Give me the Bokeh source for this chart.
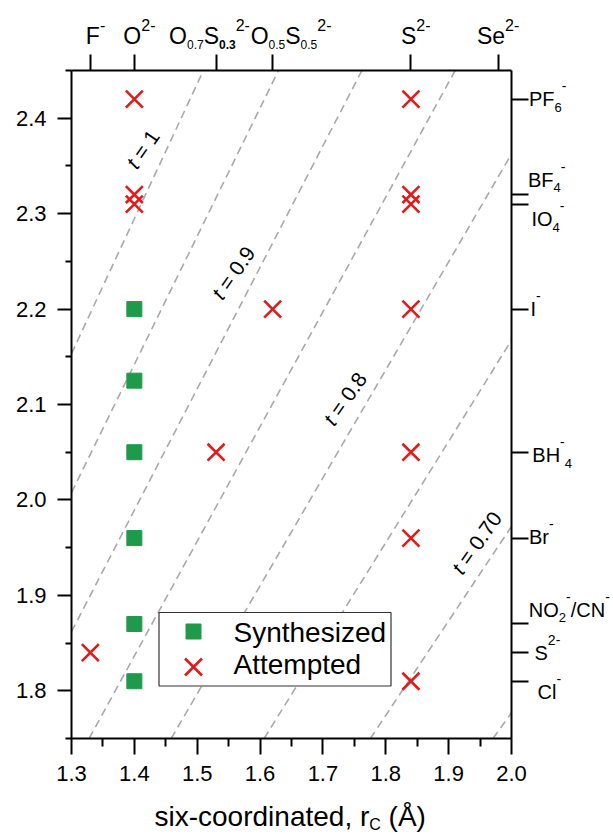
import math

from bokeh.embed import file_html
from bokeh.models import (FixedTicker, Label, LinearAxis, NumeralTickFormatter,
                          Range1d)
from bokeh.plotting import figure
from bokeh.resources import INLINE

# ---- data: six-coordinated Shannon radii (Å) ----
synth_rc = [1.40, 1.40, 1.40, 1.40, 1.40, 1.40]
synth_ra = [2.20, 2.125, 2.05, 1.96, 1.87, 1.81]

att_rc = [1.40, 1.40, 1.40, 1.33, 1.53, 1.62,
          1.84, 1.84, 1.84, 1.84, 1.84, 1.84, 1.84]
att_ra = [2.42, 2.32, 2.31, 1.84, 2.05, 2.20,
          2.42, 2.32, 2.31, 2.20, 2.05, 1.96, 1.81]

# tolerance factor iso-lines, t = (rA + rLi) / (sqrt(2) (rC + rLi))
r_li = 0.76
t_lines = [1.0, 0.95, 0.9, 0.85, 0.8, 0.75, 0.7, 0.65]
t_label_vals = [1.0, 0.9, 0.8, 0.7]
t_label_text = ["1", "0.9", "0.8", "0.70"]
t_label_ra = [2.3675, 2.238, 2.106, 1.955]

# anion ticks on the secondary axes
top_rc = [1.33, 1.40, 1.53, 1.62, 1.84, 1.98]
right_ra = [2.42, 2.32, 2.31, 2.20, 2.05, 1.96, 1.87, 1.84, 1.81]

x_ticks = [1.3, 1.4, 1.5, 1.6, 1.7, 1.8, 1.9, 2.0]
x_minor = [1.35, 1.45, 1.55, 1.65, 1.75, 1.85, 1.95]
y_ticks = [1.8, 1.9, 2.0, 2.1, 2.2, 2.3, 2.4]
y_minor = [1.75, 1.85, 1.95, 2.05, 2.15, 2.25, 2.35, 2.45]

X0, X1 = 1.3, 2.0
Y0, Y1 = 1.75, 2.45

FONT = "Liberation Sans"
GREEN = "#1f9a4a"
RED = "#e01b1b"
NBSP = "\u00a0"

W, H = 613, 834
L, R, T, B = 71, 511, 70, 738   # edges of the axes box in canvas pixels


def dx(px):
    return X0 + (px - L) * (X1 - X0) / (R - L)


def dy(py):
    return Y0 + (B - py) * (Y1 - Y0) / (B - T)


def sx(x):
    return L + (x - X0) * (R - L) / (X1 - X0)


def sy(y):
    return B - (y - Y0) * (B - T) / (Y1 - Y0)


# the frame fills the canvas; the axes sit at fixed positions inside it
p = figure(width=W, height=H, output_backend="svg", toolbar_location=None,
           x_range=Range1d(dx(0), dx(W)), y_range=Range1d(dy(H), dy(0)),
           min_border=0, x_axis_location=None, y_axis_location=None,
           background_fill_color="white", border_fill_color="white")
p.outline_line_color = None
p.grid.visible = False


def make_axis(ticks, minor, loc, bounds, out_major, out_minor, show_labels):
    ax = LinearAxis(ticker=FixedTicker(ticks=ticks, minor_ticks=minor),
                    fixed_location=loc, bounds=bounds,
                    formatter=NumeralTickFormatter(format="0.0"))
    ax.axis_line_width = 2
    ax.axis_line_color = "black"
    ax.major_tick_line_width = 2
    ax.minor_tick_line_width = 2
    ax.major_tick_in = 0
    ax.minor_tick_in = 0
    ax.major_tick_out = out_major
    ax.minor_tick_out = out_minor
    ax.major_label_text_font = FONT
    ax.major_label_text_font_size = "22px"
    ax.major_label_text_color = "black" if show_labels else None
    return ax


bottom_ax = make_axis(x_ticks, x_minor, Y0, (X0, X1), 16, 8, True)
bottom_ax.major_label_standoff = 11
p.add_layout(bottom_ax, "below")

left_ax = make_axis(y_ticks, y_minor, X0, (Y0, Y1), 14, 6, True)
left_ax.major_label_standoff = 11
p.add_layout(left_ax, "left")

top_ax = make_axis(top_rc, [], Y1, (X0, X1), 16, 0, False)
p.add_layout(top_ax, "above")

right_ax = make_axis(right_ra, [], X1, (Y0, Y1), 17, 0, False)
p.add_layout(right_ax, "right")

# ---- dashed tolerance-factor lines, cut to the axes box ----
for t in t_lines:
    m = t * math.sqrt(2)
    c = m * r_li - r_li
    xa = max(X0, (Y0 - c) / m)
    xb = min(X1, (Y1 - c) / m)
    p.line([xa, xb], [m * xa + c, m * xb + c],
           line_color="#a9a9a9", line_width=1.6, line_dash="8 5")

# ---- markers ----
p.scatter(synth_rc, synth_ra, marker="square", size=15,
          fill_color=GREEN, line_color=GREEN, line_width=1)
p.scatter(att_rc, att_ra, marker="x", size=24,
          line_color=RED, line_width=2.6)

# ---- legend box with its own sample markers ----
p.quad(left=[dx(158.5)], right=[dx(390.5)], top=[dy(612)], bottom=[dy(685.5)],
       fill_color="white", line_color="#333333", line_width=1.2)
p.scatter([dx(193)], [dy(631)], marker="square", size=15,
          fill_color=GREEN, line_color=GREEN, line_width=1)
p.scatter([dx(193)], [dy(666.5)], marker="x", size=24,
          line_color=RED, line_width=2.6)


ADV = {"O": .778, "F": .611, "S": .667, "e": .556, "P": .667, "B": .667,
       "I": .278, "H": .722, "N": .722, "C": .722, "r": .333, "l": .222,
       ".": .278, "-": .333, "/": .278, " ": .278, NBSP: .278, "=": .584,
       "t": .278, "(": .333, ")": .333, "Å": .667, "s": .5, "i": .222,
       "x": .5, "c": .5, "o": .556, "d": .556, "n": .556, "a": .556,
       ",": .278}

# distance from the baseline up to the middle of the font box, in em
MID = 0.347


def text_w(s, size):
    return sum(ADV.get(ch, .556) for ch in s) * size


def add_text(txt, px, py, size, style="normal", angle=0.0, centred=False):
    """Place text with its baseline (or, if centred, its middle) at px, py."""
    yc = py if centred else py - MID * size
    p.add_layout(Label(x=dx(px), y=dy(yc), text=txt, text_font=FONT,
                       text_font_size=f"{size}px", text_font_style=style,
                       text_color="black", text_align="left",
                       text_baseline="middle", angle=angle))


def rich(pieces, x_px, base_py, base, sub, sup, sub_dy, sup_dy):
    x = x_px
    for txt, role in pieces:
        style = "normal"
        if role == "b":
            size, yb = base, base_py
        elif role in ("sub", "subb"):
            size, yb = sub, base_py + sub_dy
            if role == "subb":
                style = "bold"
        else:
            size, yb = sup, base_py - sup_dy
        add_text(txt, x, yb, size, style)
        x += text_w(txt, size)


add_text("Synthesized", 233, 641.5, 28)
add_text("Attempted", 233, 674, 28)

# top-axis anion labels: (pieces, tick value, offset of text start from tick)
top_labels = [
    ([("F", "b"), ("-", "sup")], 1.33, -4.5),
    ([("O", "b"), ("2-", "sup")], 1.40, -11),
    ([("O", "b"), ("0.7", "sub"), ("S", "b"), ("0.3", "subb"), ("2-", "sup")], 1.53, -47),
    ([("O", "b"), ("0.5", "sub"), ("S", "b"), ("0.5", "sub"), ("2-", "sup")], 1.62, -22),
    ([("S", "b"), ("2-", "sup")], 1.84, -10),
    ([("S", "b"), ("e", "b"), ("2-", "sup")], 1.98, -22),
]
for pieces, val, off in top_labels:
    rich(pieces, sx(val) + off, 43, 23, 12, 16, 5.5, 12.5)

# right-axis anion labels: (pieces, text start x, baseline y) in pixels
right_labels = [
    ([("PF", "b"), ("6", "sub"), ("-", "sup")], 528.5, 105.7),
    ([("BF", "b"), ("4", "sub"), ("-", "sup")], 527.5, 186),
    ([("IO", "b"), ("4", "sub"), ("-", "sup")], 531, 225.7),
    ([("I", "b"), ("-", "sup")], 530, 315.5),
    ([("BH", "b"), ("-", "sup"), ("4", "sub")], 531.8, 461.7),
    ([("Br", "b"), ("-", "sup")], 528.5, 543.7),
    ([("NO", "b"), ("2", "sub"), ("-", "sup"), ("/CN", "b"), ("-", "sup")], 528.3, 616),
    ([("S", "b"), ("2-", "sup")], 534, 659),
    ([("Cl", "b"), ("-", "sup")], 537, 698.3),
]
for pieces, x_px, y_px in right_labels:
    rich(pieces, x_px, y_px, 20, 13, 14, 6, 15)

# x-axis title with subscript
rich([("six-coordinated, r", "b"), ("C", "sub"), (NBSP + "(Å)", "b")],
     154, 826, 28, 16, 16, 3.5, 12)

# rotated t labels, placed to the left of their iso-lines
theta = math.radians(55)
T_SIZE = 21
for t, txt, ra in zip(t_label_vals, t_label_text, t_label_ra):
    x_line = (ra + r_li) / (t * math.sqrt(2)) - r_li
    cx, cy = sx(x_line) - 24, sy(ra)
    rest = NBSP + "=" + NBSP + txt
    w_t = text_w("t", T_SIZE)
    w_all = w_t + text_w(rest, T_SIZE)
    x0 = cx - w_all / 2 * math.cos(theta)
    y0 = cy + w_all / 2 * math.sin(theta)
    add_text("t", x0, y0, T_SIZE, "italic", theta, centred=True)
    add_text(rest, x0 + w_t * math.cos(theta), y0 - w_t * math.sin(theta),
             T_SIZE, "normal", theta, centred=True)

open("out.html", "w").write(file_html(p, INLINE))
